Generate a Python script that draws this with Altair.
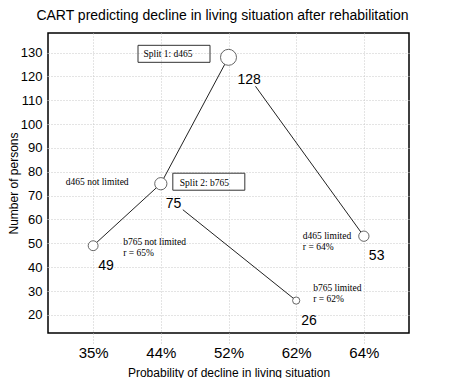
import altair as alt
import pandas as pd

# ---------------- data ----------------
probs = ["35%", "44%", "52%", "62%", "64%"]
persons = [49, 75, 128, 26, 53]

edge_from = ["52%", "44%", "52%", "44%"]
edge_to = ["44%", "35%", "64%", "62%"]

split_text = ["Split 1: d465", "Split 2: b765"]
split_at = ["52%", "44%"]

branch_text = ["d465 not limited", "b765 not limited\nr = 65%",
               "d465 limited\nr = 64%", "b765 limited\nr = 62%"]
branch_at = ["44%", "35%", "64%", "62%"]

y_ticks = [20, 30, 40, 50, 60, 70, 80, 90, 100, 110, 120, 130]

# ---------------- tables ----------------
nodes = pd.DataFrame({"prob": probs, "n": persons})
lookup = dict(zip(probs, persons))
edges = pd.DataFrame({"src": edge_from, "dst": edge_to,
                      "y1": [lookup[p] for p in edge_from],
                      "y2": [lookup[p] for p in edge_to]})
splits = pd.DataFrame({"prob": split_at, "label": split_text,
                       "n": [lookup[p] for p in split_at]})
branches = pd.DataFrame({"prob": branch_at, "label": branch_text,
                         "n": [lookup[p] for p in branch_at]})

# ---------------- styles ----------------
SANS = "Liberation Sans"
SERIF = "Liberation Serif"
xs = alt.Scale(type="point", domain=probs, padding=0.667)
ys = alt.Scale(domain=[12.4, 138.2], nice=False, zero=False)

x_axis = alt.Axis(title="Probability of decline in living situation",
                  labelFont=SANS, labelFontSize=15, labelColor="black",
                  labelAngle=0, labelPadding=2, tickSize=10,
                  tickColor="#c0c0c0", tickDash=[1, 2], grid=True,
                  gridColor="#c8c8c8", gridDash=[1, 2], domain=False,
                  titleFont=SANS, titleFontSize=12, titleFontWeight="normal",
                  titleColor="black", titlePadding=7)
y_axis = alt.Axis(title="Number of persons", values=y_ticks,
                  labelFont=SANS, labelFontSize=13, labelColor="black",
                  labelPadding=3, tickSize=3, tickColor="#c0c0c0",
                  tickDash=[1, 2], grid=True, gridColor="#c8c8c8",
                  gridDash=[1, 2], domain=False, titleFont=SANS,
                  titleFontSize=12, titleFontWeight="normal",
                  titleColor="black", titlePadding=0)

X = lambda f: alt.X(f"{f}:N", scale=xs, axis=x_axis, sort=probs)
Y = lambda f: alt.Y(f"{f}:Q", scale=ys, axis=y_axis)

# start offsets of edges (right branches start at the parent's label)
edge_offsets = {("52%", "64%"): (27, 29), ("44%", "62%"): (22, 26)}

layers = []
for i, row in edges.iterrows():
    ox, oy = edge_offsets.get((row.src, row.dst), (0, 0))
    layers.append(
        alt.Chart(edges.iloc[[i]]).mark_rule(
            color="#222", strokeWidth=1, xOffset=ox, yOffset=oy
        ).encode(x=X("src"), y=Y("y1"), x2="dst", y2="y2")
    )

circles = alt.Chart(nodes).mark_point(
    filled=True, fill="white", stroke="#555", strokeWidth=0.9, opacity=1
).encode(
    x=X("prob"), y=Y("n"),
    size=alt.Size("n:Q", scale=alt.Scale(domain=[0, 128], range=[0, 256]),
                  legend=None),
)
layers.append(circles)

num_root = alt.Chart(nodes).transform_filter("datum.n == 128").mark_text(
    font=SANS, fontSize=14, color="black", align="left",
    baseline="alphabetic", dx=9, dy=27
).encode(x=X("prob"), y=Y("n"), text="n:Q")
num_rest = alt.Chart(nodes).transform_filter("datum.n != 128").mark_text(
    font=SANS, fontSize=14, color="black", align="left",
    baseline="alphabetic", dx=5, dy=24
).encode(x=X("prob"), y=Y("n"), text="n:Q")
layers += [num_root, num_rest]

# split boxes and labels
box_off = {"Split 1: d465": (-54.5, -3.5), "Split 2: b765": (48, -2)}
txt_off = {"Split 1: d465": (-85, 0), "Split 2: b765": (19, 2)}
for i, row in splits.iterrows():
    bx, by = box_off[row.label]
    tx, ty = txt_off[row.label]
    d = splits.iloc[[i]]
    layers.append(alt.Chart(d).mark_rect(
        width=72, height=17, fill="white", fillOpacity=0, stroke="#333",
        strokeWidth=1, xOffset=bx, yOffset=by
    ).encode(x=X("prob"), y=Y("n")))
    layers.append(alt.Chart(d).mark_text(
        font=SERIF, fontSize=9.5, color="black", align="left",
        baseline="alphabetic", dx=tx, dy=ty
    ).encode(x=X("prob"), y=Y("n"), text="label:N"))

br_off = {"d465 not limited": (-95, 1), "b765 not limited\nr = 65%": (30, -1),
          "d465 limited\nr = 64%": (-61, 2.5), "b765 limited\nr = 62%": (17, -9.5)}
for i, row in branches.iterrows():
    tx, ty = br_off[row.label]
    layers.append(alt.Chart(branches.iloc[[i]]).mark_text(
        font=SERIF, fontSize=9.5, color="black", align="left",
        baseline="alphabetic", lineBreak="\n", lineHeight=11, dx=tx, dy=ty
    ).encode(x=X("prob"), y=Y("n"), text="label:N"))

chart = alt.layer(*layers).properties(
    width=361, height=300,
    title=alt.Title("CART predicting decline in living situation after rehabilitation",
                    font=SANS, fontSize=14, fontWeight="normal", color="black",
                    anchor="middle", frame="group", offset=10, dx=-6),
    autosize=alt.AutoSizeParams(type="none"),
    padding={"left": 40, "top": 25, "right": 10, "bottom": 45},
).configure(background="white").configure_view(stroke="black", strokeWidth=1.5)

chart.save("out.html", embed_options={"renderer": "svg", "actions": False})
